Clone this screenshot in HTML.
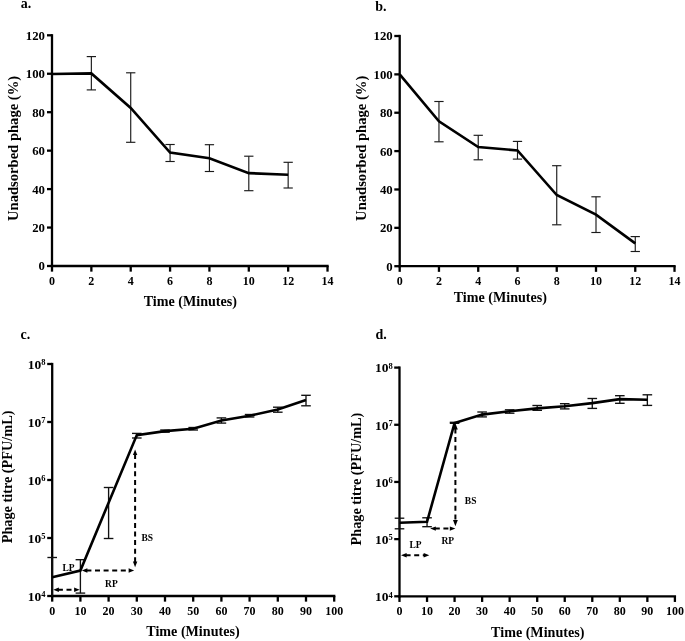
<!DOCTYPE html>
<html><head><meta charset="utf-8"><style>
html,body{margin:0;padding:0;background:#fff;}
svg{display:block;will-change:transform;}
body{-webkit-font-smoothing:antialiased;}
text{font-family:'Liberation Serif', serif;font-weight:bold;fill:#000;}
</style></head><body>
<svg width="685" height="641" viewBox="0 0 685 641">
<rect width="685" height="641" fill="#fff"/>
<line x1="52.00" y1="34.15" x2="52.00" y2="267.15" stroke="#000" stroke-width="2.3" />
<line x1="50.85" y1="266.00" x2="328.67" y2="266.00" stroke="#000" stroke-width="2.3" />
<line x1="47.00" y1="266.00" x2="52.00" y2="266.00" stroke="#000" stroke-width="2.3" />
<line x1="47.00" y1="227.55" x2="52.00" y2="227.55" stroke="#000" stroke-width="2.3" />
<line x1="47.00" y1="189.10" x2="52.00" y2="189.10" stroke="#000" stroke-width="2.3" />
<line x1="47.00" y1="150.65" x2="52.00" y2="150.65" stroke="#000" stroke-width="2.3" />
<line x1="47.00" y1="112.20" x2="52.00" y2="112.20" stroke="#000" stroke-width="2.3" />
<line x1="47.00" y1="73.75" x2="52.00" y2="73.75" stroke="#000" stroke-width="2.3" />
<line x1="47.00" y1="35.30" x2="52.00" y2="35.30" stroke="#000" stroke-width="2.3" />
<line x1="52.00" y1="266.00" x2="52.00" y2="271.65" stroke="#000" stroke-width="2.3" />
<line x1="91.36" y1="266.00" x2="91.36" y2="271.65" stroke="#000" stroke-width="2.3" />
<line x1="130.72" y1="266.00" x2="130.72" y2="271.65" stroke="#000" stroke-width="2.3" />
<line x1="170.08" y1="266.00" x2="170.08" y2="271.65" stroke="#000" stroke-width="2.3" />
<line x1="209.44" y1="266.00" x2="209.44" y2="271.65" stroke="#000" stroke-width="2.3" />
<line x1="248.80" y1="266.00" x2="248.80" y2="271.65" stroke="#000" stroke-width="2.3" />
<line x1="288.16" y1="266.00" x2="288.16" y2="271.65" stroke="#000" stroke-width="2.3" />
<line x1="327.52" y1="266.00" x2="327.52" y2="271.65" stroke="#000" stroke-width="2.3" />
<text x="52.00" y="285.00" font-size="12" text-anchor="middle" >0</text>
<text x="91.36" y="285.00" font-size="12" text-anchor="middle" >2</text>
<text x="130.72" y="285.00" font-size="12" text-anchor="middle" >4</text>
<text x="170.08" y="285.00" font-size="12" text-anchor="middle" >6</text>
<text x="209.44" y="285.00" font-size="12" text-anchor="middle" >8</text>
<text x="248.80" y="285.00" font-size="12" text-anchor="middle" >10</text>
<text x="288.16" y="285.00" font-size="12" text-anchor="middle" >12</text>
<text x="327.52" y="285.00" font-size="12" text-anchor="middle" >14</text>
<text x="45.00" y="270.40" font-size="12.8" text-anchor="end" >0</text>
<text x="45.00" y="231.95" font-size="12.8" text-anchor="end" >20</text>
<text x="45.00" y="193.50" font-size="12.8" text-anchor="end" >40</text>
<text x="45.00" y="155.05" font-size="12.8" text-anchor="end" >60</text>
<text x="45.00" y="116.60" font-size="12.8" text-anchor="end" >80</text>
<text x="45.00" y="78.15" font-size="12.8" text-anchor="end" >100</text>
<text x="45.00" y="39.70" font-size="12.8" text-anchor="end" >120</text>
<line x1="91.36" y1="56.60" x2="91.36" y2="89.90" stroke="#1a1a1a" stroke-width="1.15" />
<line x1="86.71" y1="56.60" x2="96.01" y2="56.60" stroke="#1a1a1a" stroke-width="1.15" />
<line x1="86.71" y1="89.90" x2="96.01" y2="89.90" stroke="#1a1a1a" stroke-width="1.15" />
<line x1="130.72" y1="72.80" x2="130.72" y2="142.30" stroke="#1a1a1a" stroke-width="1.15" />
<line x1="126.07" y1="72.80" x2="135.37" y2="72.80" stroke="#1a1a1a" stroke-width="1.15" />
<line x1="126.07" y1="142.30" x2="135.37" y2="142.30" stroke="#1a1a1a" stroke-width="1.15" />
<line x1="170.08" y1="144.50" x2="170.08" y2="161.50" stroke="#1a1a1a" stroke-width="1.15" />
<line x1="165.43" y1="144.50" x2="174.73" y2="144.50" stroke="#1a1a1a" stroke-width="1.15" />
<line x1="165.43" y1="161.50" x2="174.73" y2="161.50" stroke="#1a1a1a" stroke-width="1.15" />
<line x1="209.44" y1="144.70" x2="209.44" y2="171.50" stroke="#1a1a1a" stroke-width="1.15" />
<line x1="204.79" y1="144.70" x2="214.09" y2="144.70" stroke="#1a1a1a" stroke-width="1.15" />
<line x1="204.79" y1="171.50" x2="214.09" y2="171.50" stroke="#1a1a1a" stroke-width="1.15" />
<line x1="248.80" y1="156.20" x2="248.80" y2="190.70" stroke="#1a1a1a" stroke-width="1.15" />
<line x1="244.15" y1="156.20" x2="253.45" y2="156.20" stroke="#1a1a1a" stroke-width="1.15" />
<line x1="244.15" y1="190.70" x2="253.45" y2="190.70" stroke="#1a1a1a" stroke-width="1.15" />
<line x1="288.16" y1="162.30" x2="288.16" y2="188.00" stroke="#1a1a1a" stroke-width="1.15" />
<line x1="283.51" y1="162.30" x2="292.81" y2="162.30" stroke="#1a1a1a" stroke-width="1.15" />
<line x1="283.51" y1="188.00" x2="292.81" y2="188.00" stroke="#1a1a1a" stroke-width="1.15" />
<polyline points="52.00,74.00 91.36,73.40 130.72,108.00 170.08,152.50 209.44,158.20 248.80,173.10 288.16,174.80" fill="none" stroke="#000" stroke-width="2.6" stroke-linejoin="miter"/>
<text x="20.80" y="8.00" font-size="14" text-anchor="start" >a.</text>
<text transform="translate(17.9,221.0) rotate(-90)" font-size="14.6">Unadsorbed phage (%)</text>
<text x="143.70" y="306.00" font-size="14.1" text-anchor="start" >Time (Minutes)</text>
<line x1="399.70" y1="34.85" x2="399.70" y2="267.35" stroke="#000" stroke-width="2.3" />
<line x1="398.55" y1="266.20" x2="675.67" y2="266.20" stroke="#000" stroke-width="2.3" />
<line x1="394.30" y1="266.20" x2="399.70" y2="266.20" stroke="#000" stroke-width="2.3" />
<line x1="394.30" y1="227.83" x2="399.70" y2="227.83" stroke="#000" stroke-width="2.3" />
<line x1="394.30" y1="189.47" x2="399.70" y2="189.47" stroke="#000" stroke-width="2.3" />
<line x1="394.30" y1="151.10" x2="399.70" y2="151.10" stroke="#000" stroke-width="2.3" />
<line x1="394.30" y1="112.73" x2="399.70" y2="112.73" stroke="#000" stroke-width="2.3" />
<line x1="394.30" y1="74.37" x2="399.70" y2="74.37" stroke="#000" stroke-width="2.3" />
<line x1="394.30" y1="36.00" x2="399.70" y2="36.00" stroke="#000" stroke-width="2.3" />
<line x1="399.70" y1="266.20" x2="399.70" y2="271.85" stroke="#000" stroke-width="2.3" />
<line x1="438.96" y1="266.20" x2="438.96" y2="271.85" stroke="#000" stroke-width="2.3" />
<line x1="478.22" y1="266.20" x2="478.22" y2="271.85" stroke="#000" stroke-width="2.3" />
<line x1="517.48" y1="266.20" x2="517.48" y2="271.85" stroke="#000" stroke-width="2.3" />
<line x1="556.74" y1="266.20" x2="556.74" y2="271.85" stroke="#000" stroke-width="2.3" />
<line x1="596.00" y1="266.20" x2="596.00" y2="271.85" stroke="#000" stroke-width="2.3" />
<line x1="635.26" y1="266.20" x2="635.26" y2="271.85" stroke="#000" stroke-width="2.3" />
<line x1="674.52" y1="266.20" x2="674.52" y2="271.85" stroke="#000" stroke-width="2.3" />
<text x="399.70" y="285.00" font-size="12" text-anchor="middle" >0</text>
<text x="438.96" y="285.00" font-size="12" text-anchor="middle" >2</text>
<text x="478.22" y="285.00" font-size="12" text-anchor="middle" >4</text>
<text x="517.48" y="285.00" font-size="12" text-anchor="middle" >6</text>
<text x="556.74" y="285.00" font-size="12" text-anchor="middle" >8</text>
<text x="596.00" y="285.00" font-size="12" text-anchor="middle" >10</text>
<text x="635.26" y="285.00" font-size="12" text-anchor="middle" >12</text>
<text x="674.52" y="285.00" font-size="12" text-anchor="middle" >14</text>
<text x="392.70" y="270.60" font-size="12.8" text-anchor="end" >0</text>
<text x="392.70" y="232.23" font-size="12.8" text-anchor="end" >20</text>
<text x="392.70" y="193.87" font-size="12.8" text-anchor="end" >40</text>
<text x="392.70" y="155.50" font-size="12.8" text-anchor="end" >60</text>
<text x="392.70" y="117.13" font-size="12.8" text-anchor="end" >80</text>
<text x="392.70" y="78.77" font-size="12.8" text-anchor="end" >100</text>
<text x="392.70" y="40.40" font-size="12.8" text-anchor="end" >120</text>
<line x1="438.96" y1="101.50" x2="438.96" y2="141.80" stroke="#1a1a1a" stroke-width="1.15" />
<line x1="434.31" y1="101.50" x2="443.61" y2="101.50" stroke="#1a1a1a" stroke-width="1.15" />
<line x1="434.31" y1="141.80" x2="443.61" y2="141.80" stroke="#1a1a1a" stroke-width="1.15" />
<line x1="478.22" y1="135.30" x2="478.22" y2="159.80" stroke="#1a1a1a" stroke-width="1.15" />
<line x1="473.57" y1="135.30" x2="482.87" y2="135.30" stroke="#1a1a1a" stroke-width="1.15" />
<line x1="473.57" y1="159.80" x2="482.87" y2="159.80" stroke="#1a1a1a" stroke-width="1.15" />
<line x1="517.48" y1="141.40" x2="517.48" y2="159.10" stroke="#1a1a1a" stroke-width="1.15" />
<line x1="512.83" y1="141.40" x2="522.13" y2="141.40" stroke="#1a1a1a" stroke-width="1.15" />
<line x1="512.83" y1="159.10" x2="522.13" y2="159.10" stroke="#1a1a1a" stroke-width="1.15" />
<line x1="556.74" y1="165.70" x2="556.74" y2="224.80" stroke="#1a1a1a" stroke-width="1.15" />
<line x1="552.09" y1="165.70" x2="561.39" y2="165.70" stroke="#1a1a1a" stroke-width="1.15" />
<line x1="552.09" y1="224.80" x2="561.39" y2="224.80" stroke="#1a1a1a" stroke-width="1.15" />
<line x1="596.00" y1="196.80" x2="596.00" y2="232.50" stroke="#1a1a1a" stroke-width="1.15" />
<line x1="591.35" y1="196.80" x2="600.65" y2="196.80" stroke="#1a1a1a" stroke-width="1.15" />
<line x1="591.35" y1="232.50" x2="600.65" y2="232.50" stroke="#1a1a1a" stroke-width="1.15" />
<line x1="635.26" y1="236.60" x2="635.26" y2="251.50" stroke="#1a1a1a" stroke-width="1.15" />
<line x1="630.61" y1="236.60" x2="639.91" y2="236.60" stroke="#1a1a1a" stroke-width="1.15" />
<line x1="630.61" y1="251.50" x2="639.91" y2="251.50" stroke="#1a1a1a" stroke-width="1.15" />
<polyline points="399.70,74.40 438.96,121.30 478.22,147.00 517.48,150.40 556.74,195.00 596.00,214.70 635.26,243.40" fill="none" stroke="#000" stroke-width="2.6" stroke-linejoin="miter"/>
<text x="375.20" y="11.10" font-size="14" text-anchor="start" >b.</text>
<text transform="translate(365.6,220.9) rotate(-90)" font-size="14.6">Unadsorbed phage (%)</text>
<text x="453.70" y="302.00" font-size="14.1" text-anchor="start" >Time (Minutes)</text>
<line x1="52.20" y1="362.85" x2="52.20" y2="597.15" stroke="#000" stroke-width="2.3" />
<line x1="51.05" y1="596.00" x2="335.35" y2="596.00" stroke="#000" stroke-width="2.3" />
<line x1="47.20" y1="596.00" x2="52.20" y2="596.00" stroke="#000" stroke-width="2.3" />
<line x1="47.20" y1="538.00" x2="52.20" y2="538.00" stroke="#000" stroke-width="2.3" />
<line x1="47.20" y1="480.00" x2="52.20" y2="480.00" stroke="#000" stroke-width="2.3" />
<line x1="47.20" y1="422.00" x2="52.20" y2="422.00" stroke="#000" stroke-width="2.3" />
<line x1="47.20" y1="364.00" x2="52.20" y2="364.00" stroke="#000" stroke-width="2.3" />
<line x1="52.20" y1="596.00" x2="52.20" y2="601.65" stroke="#000" stroke-width="2.3" />
<line x1="80.40" y1="596.00" x2="80.40" y2="601.65" stroke="#000" stroke-width="2.3" />
<line x1="108.60" y1="596.00" x2="108.60" y2="601.65" stroke="#000" stroke-width="2.3" />
<line x1="136.80" y1="596.00" x2="136.80" y2="601.65" stroke="#000" stroke-width="2.3" />
<line x1="165.00" y1="596.00" x2="165.00" y2="601.65" stroke="#000" stroke-width="2.3" />
<line x1="193.20" y1="596.00" x2="193.20" y2="601.65" stroke="#000" stroke-width="2.3" />
<line x1="221.40" y1="596.00" x2="221.40" y2="601.65" stroke="#000" stroke-width="2.3" />
<line x1="249.60" y1="596.00" x2="249.60" y2="601.65" stroke="#000" stroke-width="2.3" />
<line x1="277.80" y1="596.00" x2="277.80" y2="601.65" stroke="#000" stroke-width="2.3" />
<line x1="306.00" y1="596.00" x2="306.00" y2="601.65" stroke="#000" stroke-width="2.3" />
<line x1="334.20" y1="596.00" x2="334.20" y2="601.65" stroke="#000" stroke-width="2.3" />
<text x="52.20" y="614.60" font-size="12" text-anchor="middle" >0</text>
<text x="80.40" y="614.60" font-size="12" text-anchor="middle" >10</text>
<text x="108.60" y="614.60" font-size="12" text-anchor="middle" >20</text>
<text x="136.80" y="614.60" font-size="12" text-anchor="middle" >30</text>
<text x="165.00" y="614.60" font-size="12" text-anchor="middle" >40</text>
<text x="193.20" y="614.60" font-size="12" text-anchor="middle" >50</text>
<text x="221.40" y="614.60" font-size="12" text-anchor="middle" >60</text>
<text x="249.60" y="614.60" font-size="12" text-anchor="middle" >70</text>
<text x="277.80" y="614.60" font-size="12" text-anchor="middle" >80</text>
<text x="306.00" y="614.60" font-size="12" text-anchor="middle" >90</text>
<text x="334.20" y="614.60" font-size="12" text-anchor="middle" >100</text>
<text x="45.40" y="600.80" font-size="13.5" text-anchor="end">10<tspan font-size="8.5" dy="-3.6">4</tspan></text>
<text x="45.40" y="542.80" font-size="13.5" text-anchor="end">10<tspan font-size="8.5" dy="-3.6">5</tspan></text>
<text x="45.40" y="484.80" font-size="13.5" text-anchor="end">10<tspan font-size="8.5" dy="-3.6">6</tspan></text>
<text x="45.40" y="426.80" font-size="13.5" text-anchor="end">10<tspan font-size="8.5" dy="-3.6">7</tspan></text>
<text x="45.40" y="368.80" font-size="13.5" text-anchor="end">10<tspan font-size="8.5" dy="-3.6">8</tspan></text>
<line x1="52.20" y1="557.50" x2="52.20" y2="596.00" stroke="#111" stroke-width="1.35" />
<line x1="47.40" y1="557.50" x2="57.00" y2="557.50" stroke="#111" stroke-width="1.35" />
<line x1="80.40" y1="559.70" x2="80.40" y2="593.10" stroke="#111" stroke-width="1.35" />
<line x1="75.60" y1="559.70" x2="85.20" y2="559.70" stroke="#111" stroke-width="1.35" />
<line x1="75.60" y1="593.10" x2="85.20" y2="593.10" stroke="#111" stroke-width="1.35" />
<line x1="108.60" y1="487.50" x2="108.60" y2="538.50" stroke="#111" stroke-width="1.35" />
<line x1="103.80" y1="487.50" x2="113.40" y2="487.50" stroke="#111" stroke-width="1.35" />
<line x1="103.80" y1="538.50" x2="113.40" y2="538.50" stroke="#111" stroke-width="1.35" />
<line x1="136.80" y1="433.40" x2="136.80" y2="438.00" stroke="#111" stroke-width="1.35" />
<line x1="132.00" y1="433.40" x2="141.60" y2="433.40" stroke="#111" stroke-width="1.35" />
<line x1="132.00" y1="438.00" x2="141.60" y2="438.00" stroke="#111" stroke-width="1.35" />
<line x1="165.00" y1="430.00" x2="165.00" y2="432.20" stroke="#111" stroke-width="1.35" />
<line x1="160.20" y1="430.00" x2="169.80" y2="430.00" stroke="#111" stroke-width="1.35" />
<line x1="160.20" y1="432.20" x2="169.80" y2="432.20" stroke="#111" stroke-width="1.35" />
<line x1="193.20" y1="427.50" x2="193.20" y2="430.00" stroke="#111" stroke-width="1.35" />
<line x1="188.40" y1="427.50" x2="198.00" y2="427.50" stroke="#111" stroke-width="1.35" />
<line x1="188.40" y1="430.00" x2="198.00" y2="430.00" stroke="#111" stroke-width="1.35" />
<line x1="221.40" y1="417.90" x2="221.40" y2="423.10" stroke="#111" stroke-width="1.35" />
<line x1="216.60" y1="417.90" x2="226.20" y2="417.90" stroke="#111" stroke-width="1.35" />
<line x1="216.60" y1="423.10" x2="226.20" y2="423.10" stroke="#111" stroke-width="1.35" />
<line x1="249.60" y1="414.50" x2="249.60" y2="417.00" stroke="#111" stroke-width="1.35" />
<line x1="244.80" y1="414.50" x2="254.40" y2="414.50" stroke="#111" stroke-width="1.35" />
<line x1="244.80" y1="417.00" x2="254.40" y2="417.00" stroke="#111" stroke-width="1.35" />
<line x1="277.80" y1="407.20" x2="277.80" y2="412.20" stroke="#111" stroke-width="1.35" />
<line x1="273.00" y1="407.20" x2="282.60" y2="407.20" stroke="#111" stroke-width="1.35" />
<line x1="273.00" y1="412.20" x2="282.60" y2="412.20" stroke="#111" stroke-width="1.35" />
<line x1="306.00" y1="395.30" x2="306.00" y2="405.80" stroke="#111" stroke-width="1.35" />
<line x1="301.20" y1="395.30" x2="310.80" y2="395.30" stroke="#111" stroke-width="1.35" />
<line x1="301.20" y1="405.80" x2="310.80" y2="405.80" stroke="#111" stroke-width="1.35" />
<polyline points="52.20,577.20 80.40,570.60 108.60,502.70 136.80,435.10 165.00,431.10 193.20,428.70 221.40,420.50 249.60,415.70 277.80,409.60 306.00,400.10" fill="none" stroke="#000" stroke-width="2.6" stroke-linejoin="miter"/>
<line x1="57.90" y1="589.80" x2="75.10" y2="589.80" stroke="#000" stroke-width="2.0" stroke-dasharray="5 3.6"/>
<polygon points="53.30,589.80 58.90,592.00 58.90,587.60" fill="#000"/>
<polygon points="79.70,589.80 74.10,592.00 74.10,587.60" fill="#000"/>
<line x1="86.40" y1="570.50" x2="129.60" y2="570.50" stroke="#000" stroke-width="2.0" stroke-dasharray="5 3.6"/>
<polygon points="81.80,570.50 87.40,572.70 87.40,568.30" fill="#000"/>
<polygon points="134.20,570.50 128.60,572.70 128.60,568.30" fill="#000"/>
<line x1="135.10" y1="454.10" x2="135.10" y2="562.60" stroke="#000" stroke-width="2.0" stroke-dasharray="5 3.6"/>
<polygon points="135.10,449.50 132.90,455.10 137.30,455.10" fill="#000"/>
<polygon points="135.10,567.20 132.90,561.60 137.30,561.60" fill="#000"/>
<text x="62.50" y="570.60" font-size="9.5" text-anchor="start" >LP</text>
<text x="105.10" y="586.90" font-size="9.5" text-anchor="start" >RP</text>
<text x="141.40" y="540.80" font-size="9.5" text-anchor="start" >BS</text>
<text x="20.60" y="339.00" font-size="14" text-anchor="start" >c.</text>
<text transform="translate(12,543.3) rotate(-90)" font-size="14.25">Phage titre (PFU/mL)</text>
<text x="146.30" y="636.30" font-size="14.1" text-anchor="start" >Time (Minutes)</text>
<line x1="399.50" y1="366.45" x2="399.50" y2="597.45" stroke="#000" stroke-width="2.3" />
<line x1="398.35" y1="596.30" x2="676.05" y2="596.30" stroke="#000" stroke-width="2.3" />
<line x1="394.20" y1="596.30" x2="399.50" y2="596.30" stroke="#000" stroke-width="2.3" />
<line x1="394.20" y1="539.12" x2="399.50" y2="539.12" stroke="#000" stroke-width="2.3" />
<line x1="394.20" y1="481.95" x2="399.50" y2="481.95" stroke="#000" stroke-width="2.3" />
<line x1="394.20" y1="424.77" x2="399.50" y2="424.77" stroke="#000" stroke-width="2.3" />
<line x1="394.20" y1="367.60" x2="399.50" y2="367.60" stroke="#000" stroke-width="2.3" />
<line x1="399.50" y1="596.30" x2="399.50" y2="601.95" stroke="#000" stroke-width="2.3" />
<line x1="427.04" y1="596.30" x2="427.04" y2="601.95" stroke="#000" stroke-width="2.3" />
<line x1="454.58" y1="596.30" x2="454.58" y2="601.95" stroke="#000" stroke-width="2.3" />
<line x1="482.12" y1="596.30" x2="482.12" y2="601.95" stroke="#000" stroke-width="2.3" />
<line x1="509.66" y1="596.30" x2="509.66" y2="601.95" stroke="#000" stroke-width="2.3" />
<line x1="537.20" y1="596.30" x2="537.20" y2="601.95" stroke="#000" stroke-width="2.3" />
<line x1="564.74" y1="596.30" x2="564.74" y2="601.95" stroke="#000" stroke-width="2.3" />
<line x1="592.28" y1="596.30" x2="592.28" y2="601.95" stroke="#000" stroke-width="2.3" />
<line x1="619.82" y1="596.30" x2="619.82" y2="601.95" stroke="#000" stroke-width="2.3" />
<line x1="647.36" y1="596.30" x2="647.36" y2="601.95" stroke="#000" stroke-width="2.3" />
<line x1="674.90" y1="596.30" x2="674.90" y2="601.95" stroke="#000" stroke-width="2.3" />
<text x="399.50" y="614.60" font-size="12" text-anchor="middle" >0</text>
<text x="427.04" y="614.60" font-size="12" text-anchor="middle" >10</text>
<text x="454.58" y="614.60" font-size="12" text-anchor="middle" >20</text>
<text x="482.12" y="614.60" font-size="12" text-anchor="middle" >30</text>
<text x="509.66" y="614.60" font-size="12" text-anchor="middle" >40</text>
<text x="537.20" y="614.60" font-size="12" text-anchor="middle" >50</text>
<text x="564.74" y="614.60" font-size="12" text-anchor="middle" >60</text>
<text x="592.28" y="614.60" font-size="12" text-anchor="middle" >70</text>
<text x="619.82" y="614.60" font-size="12" text-anchor="middle" >80</text>
<text x="647.36" y="614.60" font-size="12" text-anchor="middle" >90</text>
<text x="674.90" y="614.60" font-size="12" text-anchor="middle" >100</text>
<text x="392.70" y="601.10" font-size="13.5" text-anchor="end">10<tspan font-size="8.5" dy="-3.6">4</tspan></text>
<text x="392.70" y="543.92" font-size="13.5" text-anchor="end">10<tspan font-size="8.5" dy="-3.6">5</tspan></text>
<text x="392.70" y="486.75" font-size="13.5" text-anchor="end">10<tspan font-size="8.5" dy="-3.6">6</tspan></text>
<text x="392.70" y="429.57" font-size="13.5" text-anchor="end">10<tspan font-size="8.5" dy="-3.6">7</tspan></text>
<text x="392.70" y="372.40" font-size="13.5" text-anchor="end">10<tspan font-size="8.5" dy="-3.6">8</tspan></text>
<line x1="399.50" y1="518.20" x2="399.50" y2="528.80" stroke="#111" stroke-width="1.35" />
<line x1="394.70" y1="518.20" x2="404.30" y2="518.20" stroke="#111" stroke-width="1.35" />
<line x1="394.70" y1="528.80" x2="404.30" y2="528.80" stroke="#111" stroke-width="1.35" />
<line x1="427.04" y1="517.80" x2="427.04" y2="526.70" stroke="#111" stroke-width="1.35" />
<line x1="422.24" y1="517.80" x2="431.84" y2="517.80" stroke="#111" stroke-width="1.35" />
<line x1="422.24" y1="526.70" x2="431.84" y2="526.70" stroke="#111" stroke-width="1.35" />
<line x1="454.58" y1="422.30" x2="454.58" y2="423.30" stroke="#111" stroke-width="1.35" />
<line x1="449.78" y1="422.30" x2="459.38" y2="422.30" stroke="#111" stroke-width="1.35" />
<line x1="449.78" y1="423.30" x2="459.38" y2="423.30" stroke="#111" stroke-width="1.35" />
<line x1="482.12" y1="412.00" x2="482.12" y2="416.90" stroke="#111" stroke-width="1.35" />
<line x1="477.32" y1="412.00" x2="486.92" y2="412.00" stroke="#111" stroke-width="1.35" />
<line x1="477.32" y1="416.90" x2="486.92" y2="416.90" stroke="#111" stroke-width="1.35" />
<line x1="509.66" y1="409.80" x2="509.66" y2="413.20" stroke="#111" stroke-width="1.35" />
<line x1="504.86" y1="409.80" x2="514.46" y2="409.80" stroke="#111" stroke-width="1.35" />
<line x1="504.86" y1="413.20" x2="514.46" y2="413.20" stroke="#111" stroke-width="1.35" />
<line x1="537.20" y1="405.50" x2="537.20" y2="410.30" stroke="#111" stroke-width="1.35" />
<line x1="532.40" y1="405.50" x2="542.00" y2="405.50" stroke="#111" stroke-width="1.35" />
<line x1="532.40" y1="410.30" x2="542.00" y2="410.30" stroke="#111" stroke-width="1.35" />
<line x1="564.74" y1="403.70" x2="564.74" y2="408.90" stroke="#111" stroke-width="1.35" />
<line x1="559.94" y1="403.70" x2="569.54" y2="403.70" stroke="#111" stroke-width="1.35" />
<line x1="559.94" y1="408.90" x2="569.54" y2="408.90" stroke="#111" stroke-width="1.35" />
<line x1="592.28" y1="398.50" x2="592.28" y2="408.40" stroke="#111" stroke-width="1.35" />
<line x1="587.48" y1="398.50" x2="597.08" y2="398.50" stroke="#111" stroke-width="1.35" />
<line x1="587.48" y1="408.40" x2="597.08" y2="408.40" stroke="#111" stroke-width="1.35" />
<line x1="619.82" y1="395.70" x2="619.82" y2="403.30" stroke="#111" stroke-width="1.35" />
<line x1="615.02" y1="395.70" x2="624.62" y2="395.70" stroke="#111" stroke-width="1.35" />
<line x1="615.02" y1="403.30" x2="624.62" y2="403.30" stroke="#111" stroke-width="1.35" />
<line x1="647.36" y1="394.80" x2="647.36" y2="405.40" stroke="#111" stroke-width="1.35" />
<line x1="642.56" y1="394.80" x2="652.16" y2="394.80" stroke="#111" stroke-width="1.35" />
<line x1="642.56" y1="405.40" x2="652.16" y2="405.40" stroke="#111" stroke-width="1.35" />
<polyline points="399.50,522.80 427.04,521.80 454.58,423.00 482.12,414.60 509.66,411.30 537.20,408.40 564.74,406.30 592.28,403.10 619.82,399.10 647.36,399.80" fill="none" stroke="#000" stroke-width="2.6" stroke-linejoin="miter"/>
<line x1="405.60" y1="555.20" x2="424.70" y2="555.20" stroke="#000" stroke-width="2.0" stroke-dasharray="5 3.6"/>
<polygon points="401.00,555.20 406.60,557.40 406.60,553.00" fill="#000"/>
<polygon points="429.30,555.20 423.70,557.40 423.70,553.00" fill="#000"/>
<line x1="434.80" y1="528.60" x2="450.80" y2="528.60" stroke="#000" stroke-width="2.0" stroke-dasharray="5 3.6"/>
<polygon points="430.20,528.60 435.80,530.80 435.80,526.40" fill="#000"/>
<polygon points="455.40,528.60 449.80,530.80 449.80,526.40" fill="#000"/>
<line x1="455.40" y1="428.40" x2="455.40" y2="521.10" stroke="#000" stroke-width="2.0" stroke-dasharray="5 3.6"/>
<polygon points="455.40,423.20 453.00,429.40 457.80,429.40" fill="#000"/>
<polygon points="455.40,526.30 453.00,520.10 457.80,520.10" fill="#000"/>
<text x="409.50" y="547.90" font-size="9.5" text-anchor="start" >LP</text>
<text x="441.40" y="543.50" font-size="9.5" text-anchor="start" >RP</text>
<text x="464.80" y="504.00" font-size="9.5" text-anchor="start" >BS</text>
<text x="375.50" y="339.00" font-size="14" text-anchor="start" >d.</text>
<text transform="translate(361,545.4) rotate(-90)" font-size="14.25">Phage titre (PFU/mL)</text>
<text x="491.10" y="636.80" font-size="14.1" text-anchor="start" >Time (Minutes)</text>
</svg></body></html>
